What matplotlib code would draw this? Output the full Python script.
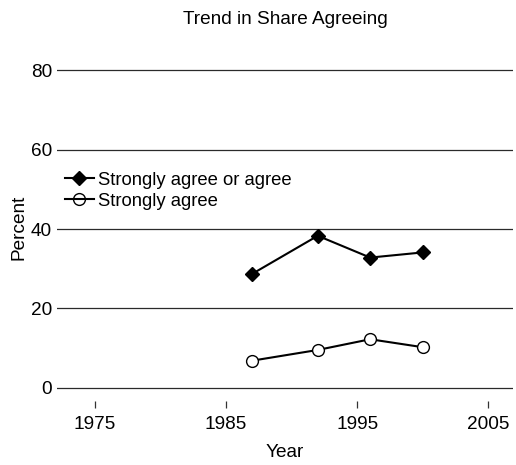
import matplotlib
matplotlib.use("Agg")
import matplotlib.pyplot as plt

plt.rcParams['font.family'] = ['Liberation Sans', 'DejaVu Sans']

years = [1987, 1992, 1996, 2000]
agree_or_agree = [28.7, 38.3, 32.8, 34.1]
strongly_agree = [6.8, 9.5, 12.2, 10.2]

x_ticks = [1975, 1985, 1995, 2005]
y_ticks = [0, 20, 40, 60, 80]

fs = 13.7

fig = plt.figure(figsize=(5.16, 4.65), dpi=100)
ax = fig.add_axes([57/516, 64.3/465, 456/516, 346.1/465])

for y in y_ticks:
    ax.axhline(y, color='#2a2a2a', lw=0.9, zorder=1)

ax.plot(years, agree_or_agree, color='black', lw=1.5, marker='D', ms=6.7,
        mfc='black', mec='black', label='Strongly agree or agree', zorder=3)
ax.plot(years, strongly_agree, color='black', lw=1.5, marker='o', ms=8.5,
        mfc='white', mec='black', mew=1.0, label='Strongly agree', zorder=3)

ax.set_xlim(1972.1, 2006.9)
ax.set_ylim(-3.3, 84)
ax.set_xticks(x_ticks)
ax.set_yticks(y_ticks)
ax.tick_params(axis='x', length=4.75, width=0.9, color='#333333', pad=6.5, labelsize=fs)
ax.tick_params(axis='y', length=0, pad=3.6, labelsize=fs)
for s in ax.spines.values():
    s.set_visible(False)

ax.set_xlabel('Year', fontsize=fs, labelpad=7.5)
ax.set_ylabel('Percent', fontsize=fs, labelpad=2)
ax.set_title('Trend in Share Agreeing', fontsize=fs, pad=22)

leg = ax.legend(loc='upper left', bbox_to_anchor=(0.0175, 0.662), frameon=False,
                fontsize=13.3, handlelength=1.55, handletextpad=0.25, labelspacing=0.22,
                borderpad=0, borderaxespad=0)
leg.legend_handles[1].set_markerfacecolor('none')

fig.savefig('out.png', dpi=100)
